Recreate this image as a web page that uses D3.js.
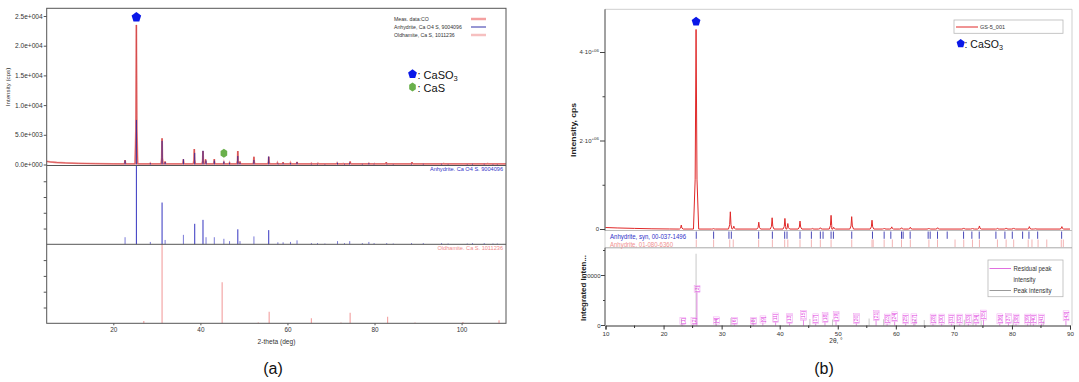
<!DOCTYPE html>
<html><head><meta charset="utf-8">
<script src="https://cdn.jsdelivr.net/npm/d3@7"></script>
<style>body{margin:0;background:#fff} svg{display:block} text{font-family:Arial,"Liberation Sans",sans-serif}</style>
</head><body><svg id="c" width="1079" height="382"></svg>
<script>
// ---------------- Panel (a) data ----------------
const aXTicks = [20, 40, 60, 80, 100];
const aYTicks = [0, 5000, 10000, 15000, 20000, 25000];
const aYTickLabels = ["0.0e+000", "5.0e+003", "1.0e+004", "1.5e+004", "2.0e+004", "2.5e+004"];
const aSubTicks = [20, 40, 60, 80];
// measured background [2theta, cps]
const aMeasBackground = [[4.7,520],[5.5,430],[7,340],[9,260],[12,190],[16,140],[20,112],[22.2,100],[110.2,95]];
// measured peaks [2theta, cps]
const aMeasPeaks = [[22.7,750],[25.3,23500],[28.5,220],[31.2,4400],[31.9,500],[36.1,870],[38.6,2600],[40.6,2270],[41.2,870],[43.2,920],[45.4,370],[46.7,300],[48.6,2270],[49.1,500],[52.3,1300],[55.7,1300],[57.7,300],[59.0,400],[60.7,300],[62.2,430],[65.5,200],[67.0,200],[71.4,250],[72.8,150],[74.4,500],[78.7,200],[80.0,150],[82.7,400],[88.6,400],[95.9,150],[100.5,100],[102.3,100],[106.0,150]];
// Anhydrite, Ca O4 S, 9004096 reference sticks [2theta, relative %]
const aAnhydriteSticks = [[22.7,9],[25.3,100],[28.5,3],[31.2,53],[31.9,5.5],[36.1,12],[38.7,26],[40.6,31],[41.3,9],[43.2,9],[45.4,7],[46.7,4],[48.6,19],[49.1,4],[52.3,10],[55.7,18],[57.8,2.5],[59.0,2.5],[60.7,3],[62.2,5],[65.5,1.5],[66.9,1.5],[68.6,1],[71.5,4],[73.1,1.5],[74.3,4],[77.2,1.5],[78.7,3],[79.9,1.5],[82.8,1.5],[84.3,1],[88.5,1.5],[91.2,1.5],[95.4,1.5],[96.9,1],[101.3,1],[102.5,1.5],[105.2,1.5],[107.2,1],[108.2,1]];
// Oldhamite, Ca S, 1011236 reference sticks [2theta, relative %]
const aOldhamiteSticks = [[27.0,3],[31.2,100],[45.0,52],[53.3,1],[55.8,14.5],[65.5,6.3],[72.3,1],[74.4,13.5],[83.0,8.3],[89.3,1],[100.3,1.5],[108.6,4]];
const aLegendLabels = ["Meas. data:CO", "Anhydrite, Ca O4 S, 9004096", "Oldhamite, Ca S, 1011236"];
const aPanelLabels = ["Anhydrite. Ca O4 S. 9004096", "Oldhamite. Ca S. 1011236"];
const aMarkerCaSO3 = [25.3, 24800];
const aMarkerCaS = [45.4, 1900];

// ---------------- Panel (b) data ----------------
const bXTicks = [10, 20, 30, 40, 50, 60, 70, 80, 90];
const bXMinorTicks = [15, 25, 35, 45, 55, 65, 75, 85];
const bYTicks = [0, 2, 4];           // x 10^6 cps
const bYTickLabels = ["0", "2·10", "4·10"];
const bYMinorTicks = [1, 3];
const bMeasBackground = [[10,0.045],[12,0.035],[15,0.025],[18,0.016],[21,0.012],[22.5,0.01],[90,0.01]];
// measured peaks [2theta, 10^6 cps]
const bMeasPeaks = [[23.05,0.10],[25.6,4.52],[28.6,0.02],[31.5,0.40],[32.1,0.075],[36.4,0.165],[38.7,0.265],[40.9,0.25],[41.4,0.135],[43.5,0.19],[45.6,0.025],[47.0,0.04],[48.85,0.32],[49.3,0.05],[52.4,0.29],[55.9,0.21],[58.0,0.03],[59.3,0.06],[61.0,0.04],[62.5,0.05],[65.7,0.03],[67.2,0.04],[71.7,0.035],[73.2,0.03],[74.4,0.08],[77.5,0.025],[79.0,0.035],[80.3,0.035],[83.0,0.065],[84.0,0.02],[88.6,0.065]];
// Anhydrite, syn, 00-037-1496 reference positions
const bRefSyn = [25.63,28.62,31.26,31.67,36.38,38.74,40.86,41.26,43.5,45.46,47.0,47.47,48.85,49.25,52.41,55.98,57.99,59.14,60.98,61.26,62.47,65.57,65.92,67.18,68.85,71.67,73.1,74.37,77.24,78.79,80.06,81.84,82.93,84.43,88.56];
// Anhydrite, 01-080-6360 reference positions
const bRef6360 = [25.63,28.62,31.4,32.0,36.38,38.74,40.86,41.4,43.5,45.46,47.0,48.85,52.41,55.9,56.1,57.99,59.4,60.98,62.5,65.7,67.18,70.2,71.7,73.2,74.4,77.5,79.0,80.3,82.8,83.45,84.5,86.0,88.5,88.85];
const bRefLabels = ["Anhydrite, syn, 00-037-1496", "Anhydrite, 01-080-6360"];
const bLegendLabel = "GS-5_001";
const bMarkerCaSO3 = [25.6, 4.7];
// lower panel: integrated intensity
const bLowYTicks = [0, 20000];
const bLowYMinorTicks = [10000, 30000];
const bPeakIntensity = [[23.1,2600],[25.6,28700],[29.0,2500],[31.6,3000],[35.4,2800],[45.2,2600],[49.1,2400],[55.4,2800],[57.9,2500],[63.3,2300],[64.9,2200],[71.8,2300],[73.3,2300],[74.7,2000],[80.2,2400],[83.2,2200],[85.4,2000]];
// [2theta, label, residual intensity]
const bPeakLabels = [[23.3,"[1]",500],[25.2,"[2]",500],[25.75,"[3]",13300],[29.1,"[4]",700],[32.2,"[6]",500],[35.5,"[8]",500],[37.1,"[9]",1100],[39.3,"[11]",1300],[41.7,"[13]",900],[44.1,"[15]",2200],[46.2,"[17]",800],[47.8,"[18]",1300],[49.7,"[19]",1700],[53.2,"[20]",900],[56.6,"[21]",2100],[58.5,"[23]",700],[59.8,"[24]",1600],[61.7,"[25]",800],[63.1,"[27]",800],[66.4,"[28]",700],[67.9,"[30]",700],[69.6,"[31]",700],[71.0,"[32]",700],[72.5,"[33]",700],[73.8,"[34]",800],[75.1,"[35]",2300],[77.9,"[36]",800],[79.4,"[37]",900],[80.7,"[38]",700],[82.7,"[39]",700],[83.7,"[40]",700],[85.1,"[41]",700],[89.3,"[43]",2000]];
const bLowLegend = ["Residual peak", "intensity", "Peak intensity"];

// ---------------- drawing ----------------
const svg = d3.select("#c");
svg.append("rect").attr("width", 1079).attr("height", 382).attr("fill", "#fff");

function profile(bg, peaks, base, hw, mainHw) {
  const pts = bg.map(d => [d[0], d[1]]);
  const maxH = d3.max(peaks, d => d[1]);
  peaks.forEach(([p, h]) => {
    const w = h === maxH ? mainHw : hw;
    pts.push([p - w, base], [p - w * 0.35, base + (h - base) * 0.25], [p, h], [p + w * 0.35, base + (h - base) * 0.25], [p + w, base]);
  });
  pts.sort((a, b) => a[0] - b[0]);
  return pts;
}

// ===== Panel (a) =====
const xA = d3.scaleLinear().domain([4.7, 110.2]).range([46.7, 506]);
const yA = d3.scaleLinear().domain([0, 25000]).range([164.5, 16]);
const yA2 = d3.scaleLinear().domain([0, 100]).range([244.3, 165.5]);
const yA3 = d3.scaleLinear().domain([0, 100]).range([323.3, 244.3]);
const gA = svg.append("g");
svg.append("clipPath").attr("id", "clipA").append("rect").attr("x", 46.7).attr("y", 8.3).attr("width", 459.3).attr("height", 315);

gA.append("g").selectAll("line").data(aAnhydriteSticks).join("line")
  .attr("x1", d => xA(d[0])).attr("x2", d => xA(d[0]))
  .attr("y1", yA2(0)).attr("y2", d => yA2(d[1]))
  .attr("stroke", d => d[1] > 15 ? "#3434c0" : "#7a7ad8").attr("stroke-width", 1);
gA.append("g").selectAll("line").data(aOldhamiteSticks).join("line")
  .attr("x1", d => xA(d[0])).attr("x2", d => xA(d[0]))
  .attr("y1", yA3(0)).attr("y2", d => yA3(d[1]))
  .attr("stroke", "#f3a7a7").attr("stroke-width", 1.2);

const lineA = d3.line().x(d => xA(d[0])).y(d => yA(d[1]));
const profA = profile(aMeasBackground, aMeasPeaks, 100, 0.22, 0.3);
gA.append("path").datum(profA)
  .attr("d", lineA).attr("fill", "none").attr("stroke", "#f29a9a").attr("stroke-width", 1.8)
  .attr("clip-path", "url(#clipA)");
gA.append("path").datum(profA)
  .attr("d", lineA).attr("fill", "none").attr("stroke", "#d04040").attr("stroke-width", 0.7)
  .attr("clip-path", "url(#clipA)");
gA.append("g").selectAll("line").data(aAnhydriteSticks).join("line")
  .attr("x1", d => xA(d[0])).attr("x2", d => xA(d[0]))
  .attr("y1", yA(0)).attr("y2", d => yA(d[1] * 75))
  .attr("stroke", "#3a2a9a").attr("stroke-width", 1);

gA.append("rect").attr("x", 46.7).attr("y", 8.3).attr("width", 459.3).attr("height", 315)
  .attr("fill", "none").attr("stroke", "#555").attr("stroke-width", 1);
gA.append("line").attr("x1", 46.7).attr("x2", 506).attr("y1", 165.5).attr("y2", 165.5).attr("stroke", "#555");
gA.append("line").attr("x1", 46.7).attr("x2", 506).attr("y1", 244.3).attr("y2", 244.3).attr("stroke", "#555");

const axYA = gA.append("g").attr("transform", "translate(46.7,0)")
  .call(d3.axisLeft(yA).tickValues(aYTicks).tickFormat((d, i) => aYTickLabels[i]).tickSize(3).tickPadding(1));
axYA.select(".domain").remove();
axYA.selectAll("text").attr("font-size", 6.6).attr("fill", "#333");
axYA.selectAll("line").attr("stroke", "#555");
[yA2, yA3].forEach(s => {
  const g = gA.append("g").attr("transform", "translate(46.7,0)")
    .call(d3.axisLeft(s).tickValues(aSubTicks).tickFormat("").tickSize(3));
  g.select(".domain").remove();
  g.selectAll("line").attr("stroke", "#555");
});
const axXA = gA.append("g").attr("transform", "translate(0,323.3)")
  .call(d3.axisBottom(xA).tickValues(aXTicks).tickSize(2).tickPadding(2));
axXA.select(".domain").remove();
axXA.selectAll("text").attr("font-size", 6.4).attr("fill", "#333");
axXA.selectAll("line").attr("stroke", "#555");

gA.append("text").attr("x", 276.5).attr("y", 344).attr("text-anchor", "middle")
  .attr("font-size", 6.6).attr("fill", "#333").text("2-theta (deg)");
gA.append("text").attr("transform", "translate(9.5,87) rotate(-90)").attr("text-anchor", "middle")
  .attr("font-size", 6.2).attr("fill", "#333").text("Intensity (cps)");

const legColors = ["#f4a0a0", "#3030a8", "#f6c0c0"];
const legWidths = [2.5, 1, 2.5];
aLegendLabels.forEach((t, i) => {
  const y = 19 + i * 8;
  gA.append("text").attr("x", 394).attr("y", y + 1.8).attr("font-size", 5.2).attr("fill", "#333").text(t);
  gA.append("line").attr("x1", 471).attr("x2", 486).attr("y1", y).attr("y2", y)
    .attr("stroke", legColors[i]).attr("stroke-width", legWidths[i]);
});
gA.append("text").attr("x", 503).attr("y", 171).attr("text-anchor", "end")
  .attr("font-size", 5.6).attr("fill", "#3434c8").text(aPanelLabels[0]);
gA.append("text").attr("x", 503).attr("y", 250).attr("text-anchor", "end")
  .attr("font-size", 5.6).attr("fill", "#f08a8a").text(aPanelLabels[1]);

function pentagon(cx, cy, r) {
  const pts = d3.range(5).map(i => {
    const a = -Math.PI / 2 + i * 2 * Math.PI / 5;
    return [cx + r * Math.cos(a), cy + r * Math.sin(a) * 1.05];
  });
  return "M" + pts.map(p => p.join(",")).join("L") + "Z";
}
function hexagon(cx, cy, r) {
  const pts = d3.range(6).map(i => {
    const a = -Math.PI / 2 + i * Math.PI / 3;
    return [cx + r * 0.85 * Math.cos(a), cy + r * Math.sin(a)];
  });
  return "M" + pts.map(p => p.join(",")).join("L") + "Z";
}
gA.append("path").attr("d", pentagon(xA(aMarkerCaSO3[0]), yA(aMarkerCaSO3[1]), 5)).attr("fill", "#0a18e8");
gA.append("path").attr("d", hexagon(xA(aMarkerCaS[0]), yA(aMarkerCaS[1]), 4.5)).attr("fill", "#6ab04c");
gA.append("path").attr("d", pentagon(412.5, 74, 4.6)).attr("fill", "#0a18e8");
const tA1 = gA.append("text").attr("x", 417.5).attr("y", 78.5).attr("font-size", 11).attr("fill", "#111");
tA1.append("tspan").text(": CaSO");
tA1.append("tspan").attr("font-size", 7.5).attr("dy", 2.5).text("3");
gA.append("path").attr("d", hexagon(412.5, 87, 4.5)).attr("fill", "#6ab04c");
gA.append("text").attr("x", 417.5).attr("y", 91.5).attr("font-size", 11).attr("fill", "#111").text(": CaS");

svg.append("text").attr("x", 273).attr("y", 374).attr("text-anchor", "middle")
  .attr("font-size", 16).attr("fill", "#111").text("(a)");

// ===== Panel (b) =====
const xB = d3.scaleLinear().domain([10, 90]).range([605.5, 1070]);
const yB = d3.scaleLinear().domain([0, 5]).range([229.5, 8.25]);
const yBL = d3.scaleLinear().domain([0, 20000]).range([325.5, 275.5]);
const gB = svg.append("g");
svg.append("clipPath").attr("id", "clipB").append("rect").attr("x", 605).attr("y", 9).attr("width", 467).attr("height", 222);

gB.append("line").attr("x1", 605).attr("x2", 1072).attr("y1", 9.3).attr("y2", 9.3).attr("stroke", "#cfcfcf");
gB.append("line").attr("x1", 1072).attr("x2", 1072).attr("y1", 9.3).attr("y2", 325.5).attr("stroke", "#cfcfcf");
gB.append("line").attr("x1", 605).attr("x2", 605).attr("y1", 230).attr("y2", 248).attr("stroke", "#cfcfcf");
gB.append("line").attr("x1", 605).attr("x2", 1072).attr("y1", 230.5).attr("y2", 230.5).attr("stroke", "#bdbdbd");
gB.append("line").attr("x1", 605).attr("x2", 1072).attr("y1", 247.8).attr("y2", 247.8).attr("stroke", "#a8a8a8");

gB.append("g").selectAll("line").data(bRefSyn).join("line")
  .attr("x1", d => xB(d)).attr("x2", d => xB(d)).attr("y1", 231.5).attr("y2", 238.8)
  .attr("stroke", "#4a4ab8").attr("stroke-width", 1);
gB.append("g").selectAll("line").data(bRef6360).join("line")
  .attr("x1", d => xB(d)).attr("x2", d => xB(d)).attr("y1", 239.5).attr("y2", 247)
  .attr("stroke", "#f2b4b4").attr("stroke-width", 1);
gB.append("text").attr("x", 610).attr("y", 239).attr("font-size", 7).attr("fill", "#3030c8")
  .attr("textLength", 76).attr("lengthAdjust", "spacingAndGlyphs").text(bRefLabels[0]);
gB.append("text").attr("x", 610).attr("y", 246.5).attr("font-size", 7).attr("fill", "#f09090")
  .attr("textLength", 63).attr("lengthAdjust", "spacingAndGlyphs").text(bRefLabels[1]);

const lineB = d3.line().x(d => xB(d[0])).y(d => yB(d[1]));
gB.append("path").datum(profile(bMeasBackground, bMeasPeaks, 0.01, 0.32, 0.45))
  .attr("d", lineB).attr("fill", "none").attr("stroke", "#e02828").attr("stroke-width", 1)
  .attr("clip-path", "url(#clipB)");

gB.append("line").attr("x1", 605).attr("x2", 605).attr("y1", 9.3).attr("y2", 230.5).attr("stroke", "#444");
gB.selectAll(".ybt").data(bYTicks).join("line").attr("x1", 600).attr("x2", 605)
  .attr("y1", d => yB(d)).attr("y2", d => yB(d)).attr("stroke", "#444");
gB.selectAll(".ybm").data(bYMinorTicks).join("line").attr("x1", 602.5).attr("x2", 605)
  .attr("y1", d => yB(d)).attr("y2", d => yB(d)).attr("stroke", "#444");
bYTicks.forEach((d, i) => {
  const t = gB.append("text").attr("x", 599).attr("y", yB(d) + 1.5).attr("text-anchor", "end")
    .attr("font-size", 6).attr("fill", "#333");
  t.append("tspan").text(bYTickLabels[i]);
  if (d !== 0) t.append("tspan").attr("font-size", 4.4).attr("dy", -2.5).text("+06");
});
gB.append("text").attr("transform", "translate(576,130) rotate(-90)").attr("text-anchor", "middle")
  .attr("font-size", 7).attr("font-weight", "bold").attr("fill", "#222")
  .attr("textLength", 54).attr("lengthAdjust", "spacingAndGlyphs").text("Intensity, cps");

gB.append("rect").attr("x", 954).attr("y", 20).attr("width", 109).attr("height", 13.3)
  .attr("fill", "#fff").attr("stroke", "#b8b8b8").attr("stroke-width", 0.8);
gB.append("line").attr("x1", 956).attr("x2", 978).attr("y1", 27).attr("y2", 27).attr("stroke", "#e02828");
gB.append("text").attr("x", 980).attr("y", 29.2).attr("font-size", 6.2).attr("fill", "#333")
  .attr("textLength", 25).attr("lengthAdjust", "spacingAndGlyphs").text(bLegendLabel);
gB.append("path").attr("d", pentagon(960.7, 43.5, 4.3)).attr("fill", "#0a18e8");
const tB1 = gB.append("text").attr("x", 964.5).attr("y", 47.5).attr("font-size", 10.5).attr("fill", "#111");
tB1.append("tspan").text(": CaSO");
tB1.append("tspan").attr("font-size", 7.2).attr("dy", 2.5).text("3");
gB.append("path").attr("d", pentagon(xB(bMarkerCaSO3[0]), yB(bMarkerCaSO3[1]), 4.6)).attr("fill", "#0a18e8");

gB.append("g").selectAll("line").data(bPeakIntensity).join("line")
  .attr("x1", d => xB(d[0])).attr("x2", d => xB(d[0]))
  .attr("y1", yBL(0)).attr("y2", d => yBL(d[1])).attr("stroke", "#c8c8c8").attr("stroke-width", 1);
gB.append("g").selectAll("line").data(bPeakLabels).join("line")
  .attr("x1", d => xB(d[0])).attr("x2", d => xB(d[0]))
  .attr("y1", yBL(0)).attr("y2", d => yBL(d[2])).attr("stroke", "#e070e0").attr("stroke-width", 0.8);
const lblG = gB.append("g").selectAll("g").data(bPeakLabels).join("g")
  .attr("transform", d => `translate(${xB(d[0]) + 1.8},${yBL(d[2]) - 0.5}) rotate(-90)`);
lblG.append("text").attr("font-size", 5).attr("fill", "#e040e0").text(d => d[1]);
lblG.each(function () {
  const t = d3.select(this).select("text");
  const w = t.node().getComputedTextLength();
  d3.select(this).insert("rect", "text").attr("x", -0.8).attr("y", -4.6).attr("width", w + 1.6).attr("height", 5.8)
    .attr("fill", "none").attr("stroke", "#f0a0f0").attr("stroke-width", 0.5);
});

gB.append("line").attr("x1", 605).attr("x2", 605).attr("y1", 247.8).attr("y2", 325.5).attr("stroke", "#444");
gB.selectAll(".ylt").data(bLowYTicks).join("line").attr("x1", 601).attr("x2", 605)
  .attr("y1", d => yBL(d)).attr("y2", d => yBL(d)).attr("stroke", "#444");
gB.selectAll(".ylm").data(bLowYMinorTicks).join("line").attr("x1", 603).attr("x2", 605)
  .attr("y1", d => yBL(d)).attr("y2", d => yBL(d)).attr("stroke", "#444");
bLowYTicks.forEach(d => {
  gB.append("text").attr("x", 600.5).attr("y", yBL(d) + 2).attr("text-anchor", "end")
    .attr("font-size", 6).attr("fill", "#333").text(d);
});
gB.append("text").attr("transform", "translate(585.5,288) rotate(-90)").attr("text-anchor", "middle")
  .attr("font-size", 7).attr("font-weight", "bold").attr("fill", "#222")
  .attr("textLength", 66).attr("lengthAdjust", "spacingAndGlyphs").text("Integrated Inten...");

const axXB = gB.append("g").attr("transform", "translate(0,325.5)")
  .call(d3.axisBottom(xB).tickValues(bXTicks).tickSize(4).tickPadding(2));
axXB.select(".domain").attr("stroke", "#333");
axXB.selectAll("text").attr("font-size", 6.2).attr("fill", "#333");
axXB.selectAll("line").attr("stroke", "#333");
gB.selectAll(".xbm").data(bXMinorTicks).join("line").attr("x1", d => xB(d)).attr("x2", d => xB(d))
  .attr("y1", 325.5).attr("y2", 328).attr("stroke", "#333");
gB.append("text").attr("x", 836).attr("y", 343).attr("text-anchor", "middle")
  .attr("font-size", 6.5).attr("fill", "#333").text("2θ, °");

gB.append("rect").attr("x", 988).attr("y", 260).attr("width", 75).attr("height", 36.7)
  .attr("fill", "#fff").attr("stroke", "#b8b8b8").attr("stroke-width", 0.8);
gB.append("line").attr("x1", 989.5).attr("x2", 1011).attr("y1", 268.5).attr("y2", 268.5).attr("stroke", "#e070e0");
gB.append("line").attr("x1", 989.5).attr("x2", 1011).attr("y1", 290.5).attr("y2", 290.5).attr("stroke", "#9a9a9a");
[[268.5, 38], [280, 22], [290.5, 38]].forEach(([y, w], i) => {
  gB.append("text").attr("x", 1013.5).attr("y", y + 2.2).attr("font-size", 6.3).attr("fill", "#333")
    .attr("textLength", w).attr("lengthAdjust", "spacingAndGlyphs").text(bLowLegend[i]);
});

svg.append("text").attr("x", 824).attr("y", 374).attr("text-anchor", "middle")
  .attr("font-size", 16).attr("fill", "#111").text("(b)");
</script></body></html>
